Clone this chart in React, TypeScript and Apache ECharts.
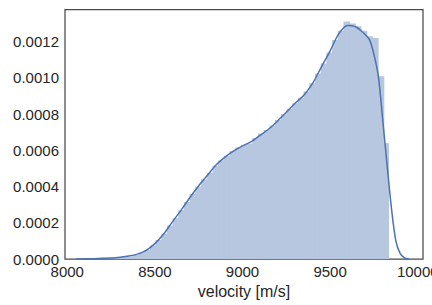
import React, { useEffect, useRef } from "react";
import * as echarts from "echarts";

// Histogram (density-normalised), 50 bins
const binStart = 8211;
const binWidth = 32.5;
const histHeights = [
  0.000003, 0.000005, 0.000008, 0.000012, 0.000014, 0.000022, 0.000035, 0.00005, 0.000075, 0.000105,
  0.00014, 0.000185, 0.000225, 0.00027, 0.000315, 0.00036, 0.0004, 0.00044, 0.000475, 0.000515,
  0.000545, 0.00057, 0.000597, 0.000616, 0.00063, 0.000638, 0.000668, 0.000693, 0.000713, 0.000738,
  0.000768, 0.0008, 0.00083, 0.00086, 0.00089, 0.000925, 0.00097, 0.001025, 0.00108, 0.00114,
  0.00121, 0.00126, 0.001312, 0.0013, 0.001285, 0.00126, 0.00123, 0.00122, 0.00101, 0.00064,
];

// KDE curve
const kdeX = [
  8050, 8100, 8150, 8200, 8250, 8300, 8350, 8400, 8450, 8500, 8550, 8600, 8650, 8700, 8750, 8800,
  8850, 8900, 8950, 9000, 9050, 9100, 9150, 9200, 9250, 9300, 9350, 9400, 9450, 9500, 9550, 9600,
  9625, 9650, 9675, 9700, 9725, 9750, 9775, 9800, 9825, 9850, 9875, 9900, 9925, 9950,
];
const kdeY = [
  0, 0.000001, 0.000002, 0.000004, 0.000006, 0.00001, 0.000016, 0.000027, 0.000048, 0.000085,
  0.000138, 0.000205, 0.00027, 0.00034, 0.000405, 0.000463, 0.00052, 0.000563, 0.000597, 0.000625,
  0.000648, 0.000683, 0.000718, 0.000762, 0.00081, 0.00086, 0.000905, 0.00097, 0.00106, 0.00115,
  0.001245, 0.00129, 0.001288, 0.00128, 0.001262, 0.00124, 0.00121, 0.00113, 0.00101, 0.00077,
  0.00052, 0.00028, 0.0001, 0.00003, 0.000006, 0,
];

const xTicks = [8000, 8500, 9000, 9500, 10000];
const yTicks = [0, 0.0002, 0.0004, 0.0006, 0.0008, 0.001, 0.0012];

export default function App() {
  const ref = useRef<HTMLDivElement>(null);
  useEffect(() => {
    if (!ref.current) return;
    const chart = echarts.init(ref.current, null, { renderer: "svg" });
    const histData = histHeights.map((h, i) => [binStart + i * binWidth, binStart + (i + 1) * binWidth, h]);
    const kdeData = kdeX.map((x, i) => [x, kdeY[i]]);
    const font = "'Liberation Sans', Arial, sans-serif";
    const last = histHeights.length - 1;
    chart.setOption({
      animation: false,
      backgroundColor: "#fff",
      grid: {
        left: 65,
        right: 9,
        top: 9.5,
        bottom: 46,
        show: true,
        borderColor: "#4a4a4a",
        borderWidth: 1.25,
        containLabel: false,
        outerBoundsMode: "none",
      },
      xAxis: {
        type: "value",
        min: 7987,
        max: 10030,
        axisLine: { show: false },
        axisTick: { show: false },
        splitLine: { show: false },
        axisLabel: {
          customValues: xTicks,
          margin: 5,
          color: "#262626",
          fontSize: 15,
          fontFamily: font,
          formatter: (v: number) => String(v),
        },
        name: "velocity [m/s]",
        nameLocation: "middle",
        nameGap: 20,
        nameTextStyle: { color: "#262626", fontSize: 16, fontFamily: font, verticalAlign: "top" },
      },
      yAxis: {
        type: "value",
        min: 0,
        max: 0.001378,
        axisLine: { show: false },
        axisTick: { show: false },
        splitLine: { show: false },
        axisLabel: {
          customValues: yTicks,
          margin: 6,
          color: "#262626",
          fontSize: 15,
          fontFamily: font,
          formatter: (v: number) => v.toFixed(4),
        },
      },
      series: [
        {
          type: "custom",
          data: histData,
          encode: { x: [0, 1], y: 2 },
          renderItem: (params: any, api: any) => {
            const p0 = api.coord([api.value(0), api.value(2)]);
            const p1 = api.coord([api.value(1), 0]);
            const extra = params.dataIndex === last ? 0 : 1;
            return {
              type: "rect",
              shape: { x: p0[0], y: p0[1], width: p1[0] - p0[0] + extra, height: p1[1] - p0[1] },
              style: { fill: "#b7c7df", stroke: null },
            };
          },
          z: 1,
        },
        {
          type: "line",
          data: kdeData,
          smooth: 0.3,
          showSymbol: false,
          lineStyle: { color: "#4c72b0", width: 1.5 },
          z: 2,
        },
      ],
    });
    return () => chart.dispose();
  }, []);
  return <div ref={ref} style={{ position: "absolute", left: 0, top: 0, width: 432, height: 305 }} />;
}
